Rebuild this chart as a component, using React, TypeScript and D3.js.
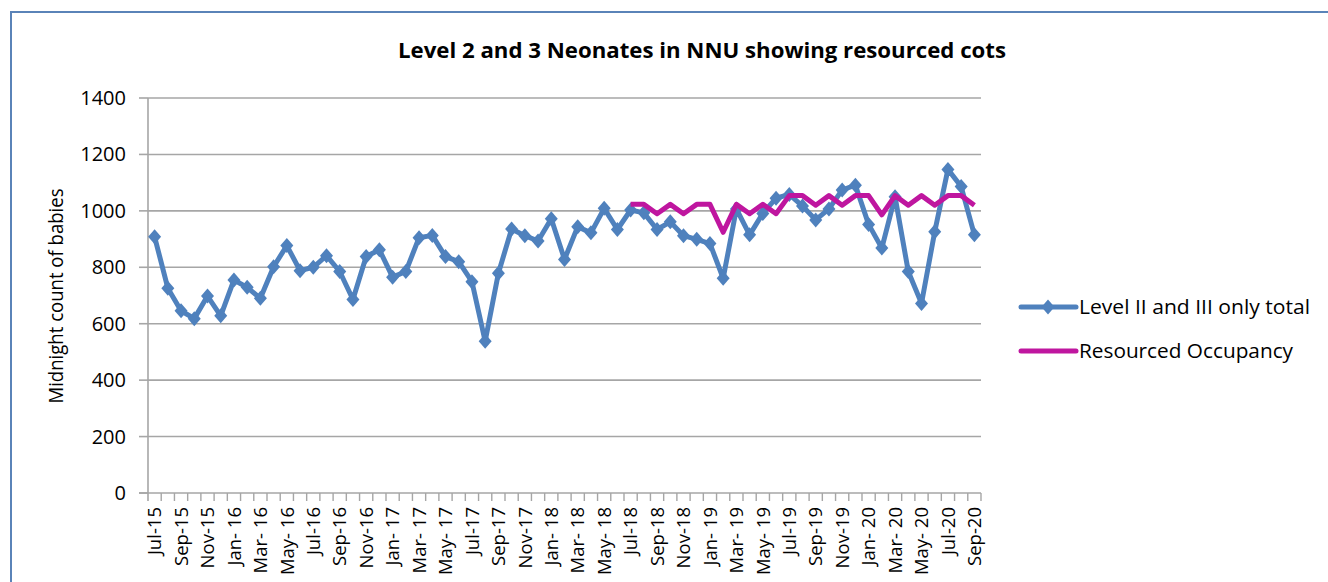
import * as d3 from "d3";

const months = [
  "Jul-15", "Aug-15", "Sep-15", "Oct-15", "Nov-15", "Dec-15",
  "Jan-16", "Feb-16", "Mar-16", "Apr-16", "May-16", "Jun-16", "Jul-16", "Aug-16", "Sep-16", "Oct-16", "Nov-16", "Dec-16",
  "Jan-17", "Feb-17", "Mar-17", "Apr-17", "May-17", "Jun-17", "Jul-17", "Aug-17", "Sep-17", "Oct-17", "Nov-17", "Dec-17",
  "Jan-18", "Feb-18", "Mar-18", "Apr-18", "May-18", "Jun-18", "Jul-18", "Aug-18", "Sep-18", "Oct-18", "Nov-18", "Dec-18",
  "Jan-19", "Feb-19", "Mar-19", "Apr-19", "May-19", "Jun-19", "Jul-19", "Aug-19", "Sep-19", "Oct-19", "Nov-19", "Dec-19",
  "Jan-20", "Feb-20", "Mar-20", "Apr-20", "May-20", "Jun-20", "Jul-20", "Aug-20", "Sep-20",
];

// shown every second month; Excel put a space in some of them
const tickLabels = [
  "Jul-15", "Sep-15", "Nov-15", "Jan- 16", "Mar- 16", "May- 16", "Jul-16", "Sep-16", "Nov-16",
  "Jan- 17", "Mar- 17", "May- 17", "Jul-17", "Sep-17", "Nov-17", "Jan- 18", "Mar- 18", "May- 18",
  "Jul-18", "Sep-18", "Nov-18", "Jan- 19", "Mar- 19", "May- 19", "Jul-19", "Sep-19", "Nov-19",
  "Jan- 20", "Mar- 20", "May- 20", "Jul-20", "Sep-20",
];

const levelTotal = [
  908, 726, 646, 618, 698, 628,
  755, 729, 690, 802, 877, 788, 800, 841, 785, 686, 838, 862,
  765, 785, 905, 913, 838, 820, 749, 538, 779, 936, 912, 893,
  972, 828, 944, 922, 1009, 934, 1003, 993, 934, 961, 912, 899,
  884, 761, 1007, 915, 991, 1045, 1058, 1017, 968, 1007, 1074, 1091,
  952, 868, 1050, 785, 672, 926, 1147, 1086, 915,
];

// starts at Jul-18
const resourcedStart = 36;
const resourced = [
  1023, 1023, 990, 1023, 990, 1023,
  1023, 924, 1023, 990, 1023, 990, 1054, 1054, 1020, 1054, 1020, 1054,
  1054, 986, 1054, 1020, 1054, 1020, 1054, 1054, 1020,
];

const yTicks = [0, 200, 400, 600, 800, 1000, 1200, 1400];

const blue = "#4f81bd";
const magenta = "#bf169f";
const font = "'Open Sans', sans-serif";

export default function App() {
  const left = 148;
  const right = 981;
  const top = 98;
  const bottom = 493;

  const x = d3.scaleBand<string>().domain(months).range([left, right]);
  const y = d3.scaleLinear().domain([0, 1400]).range([bottom, top]);
  const cx = (m: string) => (x(m) as number) + x.bandwidth() / 2;

  const line = d3
    .line<[string, number]>()
    .x((d) => cx(d[0]))
    .y((d) => y(d[1]));

  const totalPts: [string, number][] = levelTotal.map((v, i) => [months[i], v]);
  const resPts: [string, number][] = resourced.map((v, i) => [months[resourcedStart + i], v]);

  const diamond = (px: number, py: number) =>
    `M${px},${py - 7.5}L${px + 6.5},${py}L${px},${py + 7.5}L${px - 6.5},${py}Z`;

  return (
    <svg
      width={1328}
      height={582}
      style={{ position: "absolute", left: 0, top: 0, background: "#fff" }}
    >
      <rect x={11} y={12} width={1340} height={600} fill="none" stroke="#5a83b8" strokeWidth={2} />

      <text
        x={702}
        y={58}
        textAnchor="middle"
        fontFamily={font}
        fontWeight="bold"
        fontSize={21}
        textLength={608}
        lengthAdjust="spacingAndGlyphs"
        fill="#000"
      >
        Level 2 and 3 Neonates in NNU showing resourced cots
      </text>

      {/* grid + y ticks */}
      {yTicks.map((t) => (
        <g key={t}>
          {t > 0 && (
            <line x1={left} x2={right} y1={y(t)} y2={y(t)} stroke="#a6a6a6" strokeWidth={1.6} />
          )}
          <line x1={139} x2={left} y1={y(t)} y2={y(t)} stroke="#a6a6a6" strokeWidth={1.6} />
          <text
            x={126}
            y={y(t)}
            dy="0.35em"
            textAnchor="end"
            fontFamily={font}
            fontSize={20}
            fill="#000"
          >
            {t}
          </text>
        </g>
      ))}

      {/* axes */}
      <line x1={left} x2={left} y1={top} y2={bottom + 8} stroke="#a6a6a6" strokeWidth={1.6} />
      <line x1={139} x2={right} y1={bottom} y2={bottom} stroke="#a6a6a6" strokeWidth={1.6} />
      {months.map((m) => (
        <line
          key={m}
          x1={(x(m) as number) + x.bandwidth()}
          x2={(x(m) as number) + x.bandwidth()}
          y1={bottom}
          y2={bottom + 8}
          stroke="#a6a6a6"
          strokeWidth={1.4}
        />
      ))}
      {tickLabels.map((lab, i) => {
        const px = cx(months[i * 2]);
        return (
          <text
            key={lab}
            transform={`translate(${px},507) rotate(-90)`}
            dy="0.36em"
            textAnchor="end"
            fontFamily={font}
            fontSize={18.5}
            fontWeight={500}
            fill="#000"
          >
            {lab}
          </text>
        );
      })}

      <text
        transform="translate(56,296) rotate(-90)"
        dy="0.35em"
        textAnchor="middle"
        fontFamily={font}
        fontSize={19.5}
        fontWeight={500}
        textLength={215}
        lengthAdjust="spacingAndGlyphs"
        fill="#000"
      >
        Midnight count of babies
      </text>

      {/* series */}
      <path d={line(totalPts) ?? ""} fill="none" stroke={blue} strokeWidth={5} strokeLinejoin="round" />
      {totalPts.map((d) => (
        <path key={d[0]} d={diamond(cx(d[0]), y(d[1]))} fill={blue} />
      ))}
      <path d={line(resPts) ?? ""} fill="none" stroke={magenta} strokeWidth={5} strokeLinejoin="round" />

      {/* legend */}
      <line x1={1021} x2={1076} y1={307} y2={307} stroke={blue} strokeWidth={5} strokeLinecap="round" />
      <path d={diamond(1048, 307)} fill={blue} />
      <text
        x={1079}
        y={307}
        dy="0.35em"
        fontFamily={font}
        fontSize={19.5}
        textLength={231}
        lengthAdjust="spacingAndGlyphs"
        fill="#000"
      >
        Level II and III only total
      </text>
      <line x1={1021} x2={1076} y1={351} y2={351} stroke={magenta} strokeWidth={5} strokeLinecap="round" />
      <text
        x={1079}
        y={351}
        dy="0.35em"
        fontFamily={font}
        fontSize={19.5}
        textLength={214}
        lengthAdjust="spacingAndGlyphs"
        fill="#000"
      >
        Resourced Occupancy
      </text>
    </svg>
  );
}
